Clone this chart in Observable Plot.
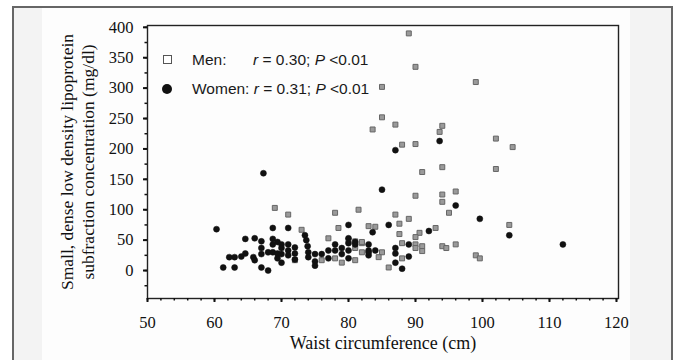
<!DOCTYPE html>
<html>
<head>
<meta charset="utf-8">
<script src="https://cdn.jsdelivr.net/npm/d3@7"></script>
<script src="https://cdn.jsdelivr.net/npm/@observablehq/plot@0.6"></script>
<style>
  body { margin: 0; background: #fff; }
  #wrap { position: relative; width: 679px; height: 360px; overflow: hidden; background: #fff; }
  .bg1 { position: absolute; left: 12px; top: 6px; width: 661px; height: 400px; border: 2px solid #666; background: #f3f3f3; box-sizing: border-box; }
  .bg2 { position: absolute; left: 42px; top: 8px; width: 588px; height: 400px; background: #fdfdfd; }
  #chart { position: absolute; left: 0; top: 0; }
  .leg { position: absolute; font-family: "Liberation Sans", Arial, sans-serif; font-size: 15.5px; color: #1a1a1a; line-height: 20px; white-space: nowrap; }
  .sq { position: absolute; width: 7px; height: 7px; border: 1.3px solid #555; background: #fff; }
  .ci { position: absolute; width: 10px; height: 10px; border-radius: 50%; background: #111; }
</style>
</head>
<body>
<div id="wrap">
  <div class="bg1"></div>
  <div class="bg2"></div>
  <div id="chart"></div>
  <div class="sq" style="left:163px;top:55px"></div>
  <div class="leg" style="left:192px;top:50px">Men:</div>
  <div class="leg" style="left:253px;top:50px"><i>r</i> = 0.30; <i>P</i> &lt;0.01</div>
  <div class="ci" style="left:162px;top:84px"></div>
  <div class="leg" style="left:192px;top:79px">Women: <i>r</i> = 0.31; <i>P</i> &lt;0.01</div>
</div>
<script>
// Men (open squares)
const menX = [89, 90, 85, 99, 85, 83.6, 87, 94, 93.6, 88, 90, 102, 104.5, 91, 94, 102,
  90, 94, 94, 96, 95, 89, 93, 90.6, 90, 90, 90, 91, 91, 94, 94.6, 96, 99, 99.6, 88, 88,
  104, 81.5, 87, 83, 84, 87.6, 87.6, 78, 78.5, 77, 81, 81, 82, 82, 85, 84.5, 81, 79, 86,
  78, 76, 69, 71, 73, 72, 80, 82];
const menY = [390, 335, 302, 310, 252, 232, 240, 238, 228, 207, 208, 217, 203, 162, 170, 167,
  123, 125, 113, 130, 95, 85, 70, 62, 55, 43, 37, 40, 32, 40, 37, 43, 25, 20, 20, 45,
  75, 100, 92, 73, 72, 77, 60, 95, 70, 53, 48, 37, 45, 30, 30, 22, 17, 13, 5,
  20, 17, 103, 92, 67, 17, 50, 47];

// Women (filled circles)
const womenX = [93.6, 87, 85, 96, 99.6, 92, 89, 89, 88, 104, 112, 67.3, 80, 83.6, 86, 87, 87, 87,
  81, 80, 80, 83, 83, 83, 84, 80, 78, 78, 79, 79, 80, 75, 75, 75, 76, 77, 77,
  73.5, 73.7, 73.9, 74, 74, 60.3, 68.7, 71, 64.6, 66, 67, 67, 68.7, 68.7, 69.4, 70, 70,
  71, 71, 71, 72, 72, 62.2, 63, 64, 64.6, 65.8, 66, 67, 68, 68.7, 69.4, 69.4, 70, 70, 72,
  61.3, 63, 67, 68, 81, 83];
const womenY = [213, 198, 133, 107, 85, 65, 43, 23, 3, 58, 43, 160, 75, 63, 75, 37, 13, 28,
  43, 53, 33, 43, 33, 25, 33, 20, 43, 33, 37, 27, 45, 27, 15, 8, 27, 33, 20,
  58, 50, 40, 30, 22, 68, 70, 70, 52, 53, 48, 37, 52, 43, 47, 43, 37,
  43, 33, 25, 38, 28, 22, 22, 23, 28, 22, 17, 27, 30, 30, 28, 20, 27, 13, 18,
  5, 5, 5, 0, 47, 30];

const xTicks = [50, 60, 70, 80, 90, 100, 110, 120];
const yTicks = [0, 50, 100, 150, 200, 250, 300, 350, 400];
const yLabel1 = "Small, dense low density lipoprotein";
const yLabel2 = "subfraction concentration (mg/dl)";
const xLabel = "Waist circumference (cm)";

const men = menX.map((x, i) => ({x, y: menY[i]}));
const women = womenX.map((x, i) => ({x, y: womenY[i]}));
const xMinor = d3.range(50, 120.01, 2);
const yMinor = d3.range(-25, 401, 25);

const chart = Plot.plot({
  width: 679,
  height: 360,
  marginLeft: 147,
  marginRight: 61,
  marginTop: 25,
  marginBottom: 62,
  style: { background: "transparent", fontFamily: "'Liberation Serif', 'Times New Roman', serif", color: "#111" },
  x: { domain: [50, 120.3] },
  y: { domain: [-46, 403] },
  marks: [
    Plot.frame({ stroke: "#222", strokeWidth: 1.4 }),
    Plot.axisX({ ticks: xMinor, tickSize: 2.5, tickFormat: () => "", label: null, strokeWidth: 1.5 }),
    Plot.axisX({ ticks: xTicks, tickSize: 4, tickPadding: 14, fontSize: 16.5, label: null, strokeWidth: 2, fill: "#111" }),
    Plot.axisY({ ticks: yMinor, tickSize: 2.5, tickFormat: () => "", label: null, strokeWidth: 1.5 }),
    Plot.axisY({ ticks: yTicks, tickSize: 4, tickPadding: 10, fontSize: 16.5, label: null, strokeWidth: 2, fill: "#111" }),
    Plot.text([yLabel1], { frameAnchor: "left", dx: -80, rotate: -90, textAnchor: "middle", lineAnchor: "middle", fontSize: 17.5, fill: "#111" }),
    Plot.text([yLabel2], { frameAnchor: "left", dx: -59, rotate: -90, textAnchor: "middle", lineAnchor: "middle", fontSize: 17.5, fill: "#111" }),
    Plot.text([xLabel], { frameAnchor: "bottom", dy: 45, textAnchor: "middle", lineAnchor: "middle", fontSize: 18, fill: "#111" }),
    Plot.dot(men, { x: "x", y: "y", symbol: "square", r: 2.8, fill: "#9a9a9a", stroke: "#666", strokeWidth: 1 }),
    Plot.dot(women, { x: "x", y: "y", r: 3, fill: "#111", stroke: "#111", strokeWidth: 0.5 })
  ]
});
document.getElementById("chart").appendChild(chart);
</script>
</body>
</html>
